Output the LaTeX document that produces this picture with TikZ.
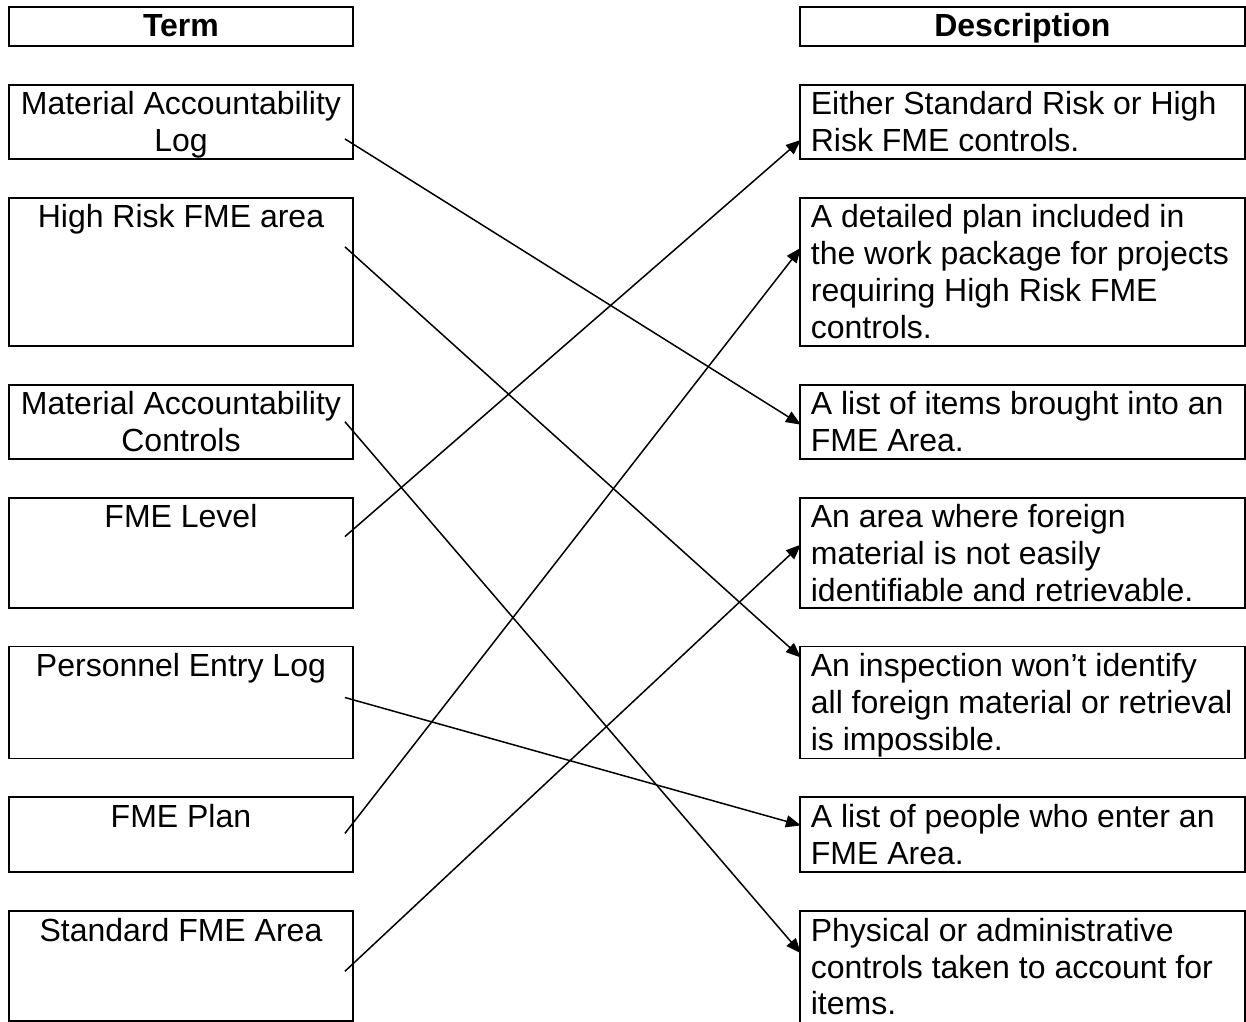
\documentclass[tikz,border=0pt]{standalone}
\usepackage{fontspec}
\setmainfont{Liberation Sans}
\usetikzlibrary{positioning, arrows.meta}
\tikzset{
  termbox/.style={
    rectangle, draw=black, line width=1.9pt,
    inner xsep=10pt, inner ysep=0pt,
    text width=324pt, align=flush center,
    text height=30pt, text depth=#1
  },
  descbox/.style={
    rectangle, draw=black, line width=1.9pt,
    inner xsep=11pt, inner ysep=0pt,
    text width=423pt, align=flush left,
    text height=30pt, text depth=#1
  },
  arrow/.style={line width=1.5pt, -{Triangle[length=15pt, width=12pt]}}
}

\begin{document}
\begin{tikzpicture}[node distance=37pt, font=\fontsize{32pt}{36.8pt}\selectfont]

\useasboundingbox (0pt,0pt) rectangle (1246pt,-1021pt);

% ==============================================================================
% Headers
% ==============================================================================
\node[termbox=9pt, anchor=north west] (term) at (8pt,-6pt) {\textbf{Term}};
\node[descbox=9pt, align=flush center, right=445pt of term] (desc) {\textbf{Description}};

% ==============================================================================
% Terms
% ==============================================================================
\node[termbox=44pt, below=of term] (t1) {Material Accountability\\Log};
\node[termbox=118pt, below=of t1] (t2) {High Risk FME area};
\node[termbox=44pt, below=of t2] (t3) {Material Accountability\\Controls};
\node[termbox=80pt, below=of t3] (t4) {FME Level};
\node[termbox=82pt, below=of t4] (t5) {Personnel Entry Log};
\node[termbox=45pt, below=of t5] (t6) {FME Plan};
\node[termbox=80pt, below=of t6] (t7) {Standard FME Area};

% ==============================================================================
% Descriptions
% ==============================================================================
\node[descbox=44pt, below=of desc] (d1) {Either Standard Risk or High\\Risk FME controls.};
\node[descbox=118pt, below=of d1] (d2) {A detailed plan included in\\the work package for projects\\requiring High Risk FME\\controls.};
\node[descbox=44pt, below=of d2] (d3) {A list of items brought into an\\FME Area.};
\node[descbox=80pt, below=of d3] (d4) {An area where foreign\\material is not easily\\identifiable and retrievable.};
\node[descbox=82pt, below=of d4] (d5) {An inspection won’t identify\\all foreign material or retrieval\\is impossible.};
\node[descbox=45pt, below=of d5] (d6) {A list of people who enter an\\FME Area.};
\node[descbox=130pt, below=of d6] (d7) {Physical or administrative\\controls taken to account for\\items.};

% ==============================================================================
% Arrows
% ==============================================================================
\coordinate (s1) at ([shift={(-9pt,-55pt)}]t1.north east);
\coordinate (s2) at ([shift={(-9pt,-50pt)}]t2.north east);
\coordinate (s3) at ([shift={(-9pt,-38pt)}]t3.north east);
\coordinate (s4) at ([shift={(-9pt,-40pt)}]t4.north east);
\coordinate (s5) at ([shift={(-9pt,-52pt)}]t5.north east);
\coordinate (s6) at ([shift={(-9pt,-37pt)}]t6.north east);
\coordinate (s7) at ([shift={(-9pt,-61pt)}]t7.north east);

\coordinate (e1) at ([shift={(2pt,-56pt)}]d1.north west);
\coordinate (e2) at ([shift={(2pt,-51pt)}]d2.north west);
\coordinate (e3) at ([shift={(2pt,-41pt)}]d3.north west);
\coordinate (e4) at ([shift={(2pt,-48pt)}]d4.north west);
\coordinate (e5) at ([shift={(2pt,-12pt)}]d5.north west);
\coordinate (e6) at ([shift={(2pt,-29pt)}]d6.north west);
\coordinate (e7) at ([shift={(2pt,-43pt)}]d7.north west);

\draw[arrow] (s1) -- (e3);
\draw[arrow] (s2) -- (e5);
\draw[arrow] (s3) -- (e7);
\draw[arrow] (s4) -- (e1);
\draw[arrow] (s5) -- (e6);
\draw[arrow] (s6) -- (e2);
\draw[arrow] (s7) -- (e4);

\end{tikzpicture}
\end{document}
